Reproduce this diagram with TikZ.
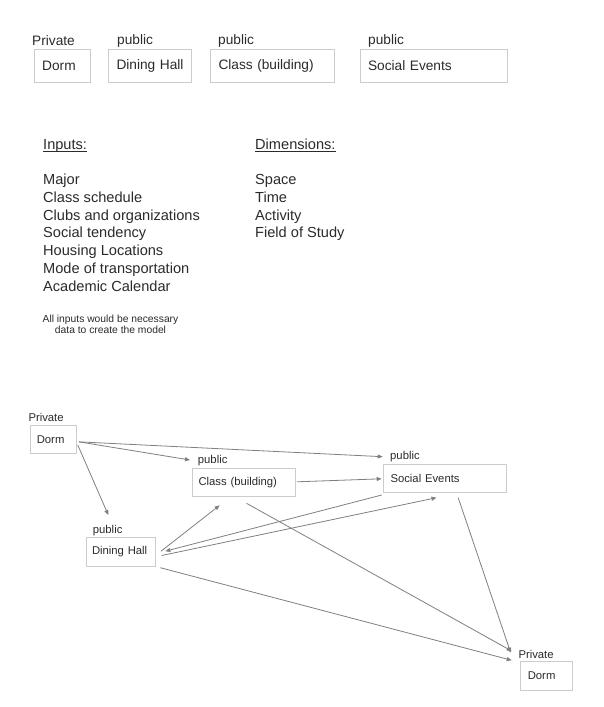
\documentclass[tikz,border=0pt]{standalone}
\usepackage{fontspec}
\setmainfont{Liberation Sans}
\usetikzlibrary{arrows.meta}
\definecolor{boxgray}{HTML}{CCCCCC}
\definecolor{linegray}{HTML}{808080}
\definecolor{inkgray}{HTML}{2B2B2B}
\tikzset{
  box/.style={draw=boxgray, line width=1pt, inner ysep=0pt, anchor=north west, align=left, text=inkgray},
  tag/.style={anchor=west, inner sep=0pt, text=inkgray},
  link/.style={draw=linegray, line width=0.8pt, -{Triangle[length=5pt,width=4pt]}},
  big/.style={font=\fontsize{13.7}{16}\selectfont},
  small/.style={font=\fontsize{11.3}{13.5}\selectfont},
  list/.style={anchor=base west, inner sep=0pt, align=left, text=inkgray, font=\fontsize{14.6}{17.72}\selectfont}
}
\begin{document}
\begin{tikzpicture}[x=1pt,y=-1pt]
\useasboundingbox[fill=white] (0,0) rectangle (604,707);
\node[box, big, inner xsep=7.7pt, text width=40.6pt, minimum height=33pt] (dormTop) at (34,49) {\mbox{Dorm}};
\node[box, big, inner xsep=8pt, text width=67pt, minimum height=33pt] (dineTop) at (108,49) {\mbox{Dining Hall}};
\node[box, big, inner xsep=8pt, text width=108pt, minimum height=33pt] (classTop) at (210,49) {\mbox{Class (building)}};
\node[box, big, inner xsep=7.5pt, text width=132pt, minimum height=33pt] (socialTop) at (360,49) {\mbox{Social Events}};
\node[tag, big] (privTop) at (32,41) {Private};
\node[tag, big] (pubDineTop) at (117,41) {public};
\node[tag, big] (pubClassTop) at (218,41) {public};
\node[tag, big] (pubSocialTop) at (368,41) {public};
\node[list] (inHead) at (43,149.7) {Inputs:};
\node[list] (dimHead) at (255,149.7) {Dimensions:};
\draw[inkgray, line width=0.8pt] ([shift={(0,2)}]inHead.base west) -- ([shift={(0,2)}]inHead.base east);
\draw[inkgray, line width=0.8pt] ([shift={(0,2)}]dimHead.base west) -- ([shift={(0,2)}]dimHead.base east);
\node[list] (inputs) at (43,291) {Major\\Class schedule\\Clubs and organizations\\Social tendency\\Housing Locations\\Mode of transportation\\Academic Calendar};
\node[list] (dims) at (255,237.9) {Space\\Time\\Activity\\Field of Study};
\node[anchor=base, inner sep=0pt, align=center, text=inkgray, font=\fontsize{10.3}{10.7}\selectfont] (note) at (110.5,333.3) {All inputs would be necessary\\data to create the model};
\node[box, small, inner xsep=6pt, text width=34pt, minimum height=28.3pt] (dorm) at (30.3,424.7) {\mbox{Dorm}};
\node[box, small, inner xsep=6.3pt, text width=90.4pt, minimum height=28.6pt] (class) at (191.7,467.7) {\mbox{Class (building)}};
\node[box, small, inner xsep=6.7pt, text width=109pt, minimum height=28pt] (social) at (383.3,464.3) {\mbox{Social Events}};
\node[box, small, inner xsep=5.5pt, text width=58pt, minimum height=28.4pt] (dining) at (86,537.3) {\mbox{Dining Hall}};
\node[box, small, inner xsep=7pt, text width=37.4pt, minimum height=29pt] (dormEnd) at (520.3,661) {\mbox{Dorm}};
\node[tag, small] (privDorm) at (28.3,417.3) {Private};
\node[tag, small] (pubClass) at (197.7,461) {public};
\node[tag, small] (pubSocial) at (390,456.7) {public};
\node[tag, small] (pubDining) at (92.7,530.7) {public};
\node[tag, small] (privEnd) at (518.3,654) {Private};
\draw[link] ([shift={(1.7,2.5)}]dorm.east) -- ([shift={(-7.7,-1)}]pubClass.west);
\draw[link] ([shift={(1.7,2.5)}]dorm.east) -- ([shift={(-7.3,0)}]pubSocial.west);
\draw[link] ([shift={(0.4,5.5)}]dorm.east) -- ([shift={(15.6,-15.7)}]pubDining.west);
\draw[link] ([shift={(1.3,-0.7)}]class.east) -- ([shift={(-1.6,0)}]social.west);
\draw[link] ([shift={(5,-0.8)}]dining.east) -- ([shift={(-24,8)}]class.south);
\draw[link] ([shift={(-1.6,1.7)}]social.south west) -- ([shift={(9.3,-0.8)}]dining.east);
\draw[link] ([shift={(5.7,3.5)}]dining.east) -- ([shift={(-8.5,4.4)}]social.south);
\draw[link] ([shift={(2.8,6)}]class.south) -- ([shift={(-6.6,-3)}]privEnd.west);
\draw[link] ([shift={(13.2,4.4)}]social.south) -- ([shift={(-7.6,-1.3)}]privEnd.west);
\draw[link] ([shift={(4.3,1)}]dining.south east) -- ([shift={(-6.6,6.3)}]privEnd.west);
\end{tikzpicture}
\end{document}
